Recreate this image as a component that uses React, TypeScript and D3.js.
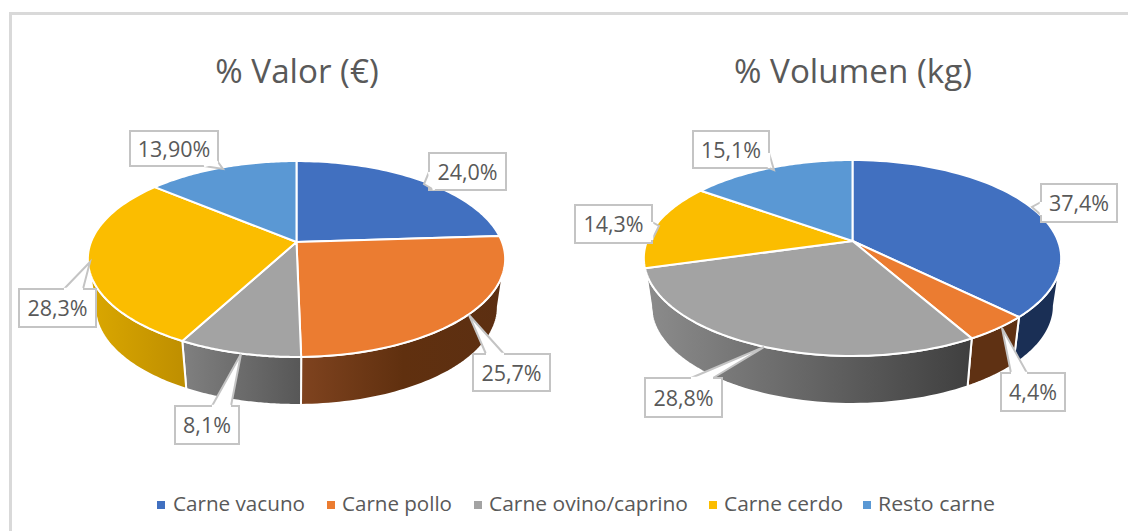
import React from "react";
import * as d3 from "d3";

const categories = ["Carne vacuno", "Carne pollo", "Carne ovino/caprino", "Carne cerdo", "Resto carne"];
const valorValues = [24.0, 25.7, 8.1, 28.3, 13.9];
const volumenValues = [37.4, 4.4, 28.8, 14.3, 15.1];
const valorLabels = ["24,0%", "25,7%", "8,1%", "28,3%", "13,90%"];
const volumenLabels = ["37,4%", "4,4%", "28,8%", "14,3%", "15,1%"];
const titles = ["% Valor (€)", "% Volumen (kg)"];

const colors = ["#4170c0", "#eb7c31", "#a3a3a3", "#fbbd00", "#5a98d4"];
const FONT = "'Open Sans', sans-serif";
const TEXT = "#595959";
const BORDER = "#c4c4c4";

// wall shading, evenly spaced stops over each wedge's own extent
const wallsValor: string[][] = [["#264478", "#264478"], ["#7f431f", "#60300f", "#5c2f12"], ["#808080", "#575757"], ["#dba800", "#bf8f00"], ["#2e75b6", "#2e75b6"]];
const wallsVolumen: string[][] = [["#1a2f55", "#1a2f55"], ["#5f3113", "#5f3113"], ["#8c8c8c", "#3f3f3f"], ["#bf8f00", "#bf8f00"], ["#2e75b6", "#2e75b6"]];

type Callout = { box: number[]; base: number[][]; tip: number[] };
const calloutsValor: Callout[] = [
  { box: [429, 153, 506, 190], base: [[429, 172], [434, 190]], tip: [424, 184] },
  { box: [473, 354, 550, 391], base: [[486, 354], [504, 354]], tip: [469, 315] },
  { box: [175, 406, 239, 444], base: [[212, 406], [231, 406]], tip: [241, 354] },
  { box: [19, 289, 96, 327], base: [[64, 289], [83, 289]], tip: [90, 262] },
  { box: [130, 131, 218, 166], base: [[204, 166], [218, 162]], tip: [223, 169] },
];
const calloutsVolumen: Callout[] = [
  { box: [1041, 184, 1117, 222], base: [[1041, 202], [1041, 215]], tip: [1032, 207] },
  { box: [1001, 373, 1065, 411], base: [[1011, 373], [1027, 373]], tip: [1002, 328] },
  { box: [645, 378, 722, 417], base: [[691, 378], [713, 378]], tip: [764, 347] },
  { box: [575, 205, 652, 243], base: [[652, 222], [652, 240]], tip: [659, 226] },
  { box: [693, 131, 769, 168], base: [[769, 153], [769, 168]], tip: [774, 170] },
];

const legendSwatchX = [157, 327, 474, 709, 863];
const legendTextX = [173, 342, 489, 724, 878];
const legendTextW = [132, 110, 199, 119, 117];

const P = 0.1735, B_UP = 95, A = 205.5, DEPTH = 48, BOTTOM_SCALE = 0.965;

function Pie3D({ id, cx, ay, values, walls, labels, callouts, title, titleX }: {
  id: string; cx: number; ay: number; values: number[]; walls: string[][]; labels: string[]; callouts: Callout[]; title: string; titleX: number;
}) {
  const arcs = d3.pie<number>().sort(null).value((d) => d)(values);
  const rim = (t: number, bottom = false): [number, number] => {
    const X = Math.sin(t), Y = Math.cos(t), w = 1 + P * Y;
    const x = (A * X) / w, y = (B_UP * Y) / w;
    return bottom ? [cx + x * BOTTOM_SCALE, ay - y + DEPTH] : [cx + x, ay - y];
  };
  const thetaR = Math.acos(-P), thetaL = 2 * Math.PI - thetaR;
  const line = d3.line();
  const sample = (a: number, b: number) => d3.range(0, 61).map((i) => a + ((b - a) * i) / 60);

  const wallData = arcs.map((s, i) => {
    const a = Math.max(s.startAngle, thetaR), b = Math.min(s.endAngle, thetaL);
    if (b <= a) return null;
    const ts = sample(a, b);
    const top = ts.map((t) => rim(t));
    const bot = ts.map((t) => rim(t, true)).reverse();
    return { i, d: line([...top, ...bot])! + "Z", x0: d3.min(top, (p) => p[0])!, x1: d3.max(top, (p) => p[0])! };
  }).filter(Boolean) as { i: number; d: string; x0: number; x1: number }[];

  return (
    <g>
      <text x={titleX} y={83} textAnchor="middle" fontFamily={FONT} fontSize={33.2} fill={TEXT}>{title}</text>
      <defs>
        {wallData.map((w) => (
          <linearGradient key={w.i} id={`${id}-w${w.i}`} gradientUnits="userSpaceOnUse" x1={w.x0} x2={w.x1} y1={0} y2={0}>
            {walls[w.i].map((c, k) => (
              <stop key={k} offset={k / (walls[w.i].length - 1)} stopColor={c} />
            ))}
          </linearGradient>
        ))}
      </defs>
      {wallData.map((w) => (
        <path key={w.i} d={w.d} fill={`url(#${id}-w${w.i})`} stroke="#fff" strokeWidth={2} strokeLinejoin="round" />
      ))}
      {arcs.map((s, i) => {
        const pts = sample(s.startAngle, s.endAngle).map((t) => rim(t));
        return <path key={i} d={line([[cx, ay], ...pts])! + "Z"} fill={colors[i]} stroke="#fff" strokeWidth={2} strokeLinejoin="round" />;
      })}
      {callouts.map((c, i) => {
        const [x0, y0, x1, y1] = c.box;
        return (
          <g key={i}>
            <rect x={x0} y={y0} width={x1 - x0} height={y1 - y0} fill="#fff" stroke={BORDER} strokeWidth={2} />
            <path d={line([c.base[0] as [number, number], c.tip as [number, number], c.base[1] as [number, number]])!} fill="#fff" stroke={BORDER} strokeWidth={2} />
            <line x1={c.base[0][0]} y1={c.base[0][1]} x2={c.base[1][0]} y2={c.base[1][1]} stroke="#fff" strokeWidth={2.5} />
            <text x={(x0 + x1) / 2} y={(y0 + y1) / 2 + 8} textAnchor="middle" fontFamily={FONT} fontSize={21.5} fill={TEXT}>{labels[i]}</text>
          </g>
        );
      })}
    </g>
  );
}

export default function App() {
  return (
    <svg width={1128} height={531} style={{ position: "absolute", left: 0, top: 0, display: "block", background: "#fff" }}>
      <path d="M10.5,531V13.5H1128" fill="none" stroke="#d9d9d9" strokeWidth={3} />
      <Pie3D id="valor" cx={296.5} ay={242} values={valorValues} walls={wallsValor} labels={valorLabels} callouts={calloutsValor} title={titles[0]} titleX={297} />
      <Pie3D id="volumen" cx={852.5} ay={241} values={volumenValues} walls={wallsVolumen} labels={volumenLabels} callouts={calloutsVolumen} title={titles[1]} titleX={853} />
      {categories.map((c, i) => (
        <g key={c}>
          <rect x={legendSwatchX[i]} y={501} width={8} height={8} fill={colors[i]} />
          <text x={legendTextX[i]} y={511} fontFamily={FONT} fontSize={20} fill={TEXT} textLength={legendTextW[i]} lengthAdjust="spacingAndGlyphs">{c}</text>
        </g>
      ))}
    </svg>
  );
}
